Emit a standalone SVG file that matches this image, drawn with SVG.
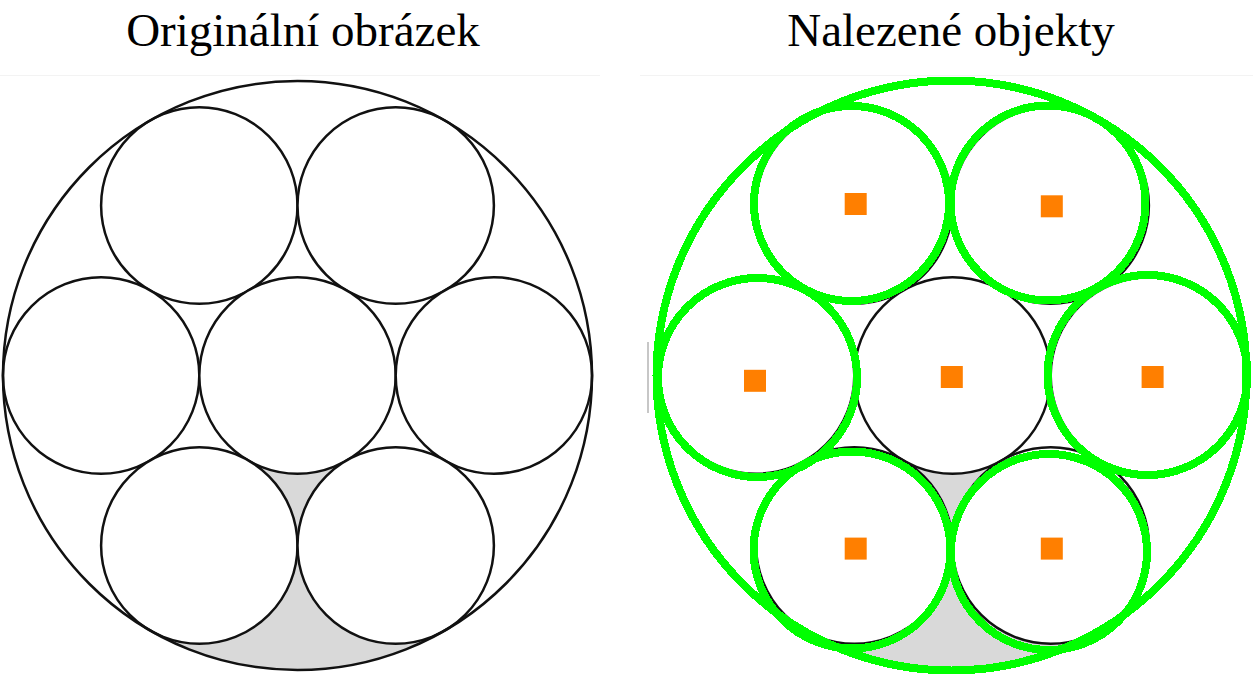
<svg xmlns="http://www.w3.org/2000/svg" xmlns:xlink="http://www.w3.org/1999/xlink" width="1253" height="674" viewBox="0 0 1253 674">
  <style>
    .title { font-family: "Liberation Serif", "Times New Roman", serif; font-size: 47px; fill: #000; text-anchor: middle; }
    .bg { fill: #fff; stroke: none; }
    .shade { fill: #d9d9d9; stroke: none; }
    .ring { fill: #fff; stroke: #111; stroke-width: 2.5; }
    .outer { fill: none; stroke: #111; stroke-width: 2.5; }
    .det { fill: none; stroke: #00ff00; stroke-width: 8; shape-rendering: crispEdges; }
    .ctr { fill: #ff7f00; }
  </style>
  <defs>
    <g id="orig">
      <circle class="bg" cx="297.5" cy="375.5" r="294.5"/>
      <path class="shade" d="M 199.3 545.5 L 150.25 630.55 A 294.5 294.5 0 0 0 444.75 630.55 L 395.7 545.5 L 297.5 375.5 Z"/>
      <circle class="ring" cx="199.3" cy="205.5" r="98.2"/>
      <circle class="ring" cx="395.7" cy="205.5" r="98.2"/>
      <circle class="ring" cx="101.1" cy="375.5" r="98.2"/>
      <circle class="ring" cx="297.5" cy="375.5" r="98.2"/>
      <circle class="ring" cx="493.9" cy="375.5" r="98.2"/>
      <circle class="ring" cx="199.3" cy="545.5" r="98.2"/>
      <circle class="ring" cx="395.7" cy="545.5" r="98.2"/>
      <circle class="outer" cx="297.5" cy="375.5" r="294.5"/>
    </g>
  </defs>
  <rect width="1253" height="674" fill="#fff"/>
  <g id="titles">
    <text class="title" x="303" y="46">Originální obrázek</text>
    <text class="title" x="951" y="46">Nalezené objekty</text>
  </g>
  <line x1="0" y1="75.5" x2="600" y2="75.5" stroke="#f3f3f3" stroke-width="1"/>
  <line x1="640" y1="75.5" x2="1253" y2="75.5" stroke="#f3f3f3" stroke-width="1"/>
  <g id="original-image">
    <use xlink:href="#orig" href="#orig"/>
  </g>
  <g id="detected-image">
    <use xlink:href="#orig" href="#orig" transform="translate(655,0)"/>
    <line x1="648" y1="342" x2="648" y2="413" stroke="#b5b5b5" stroke-width="1.5"/>
    <g id="det-outer"><circle class="det" cx="951.5" cy="375.5" r="295"/></g>
    <g id="det-tl"><circle class="det" cx="851.5" cy="203.5" r="97.5"/><rect class="ctr" x="844.7" y="193" width="22" height="22"/></g>
    <g id="det-tr"><circle class="det" cx="1048" cy="203" r="97.5"/><rect class="ctr" x="1040.8" y="195.3" width="22" height="22"/></g>
    <g id="det-l"><circle class="det" cx="757.5" cy="377.5" r="99.5"/><rect class="ctr" x="744" y="369.8" width="22" height="22"/></g>
    <g id="det-c"><rect class="ctr" x="940.8" y="366" width="22" height="22"/></g>
    <g id="det-r"><circle class="det" cx="1147.5" cy="375" r="100"/><rect class="ctr" x="1141.6" y="366" width="22" height="22"/></g>
    <g id="det-bl"><circle class="det" cx="852" cy="550" r="98.5"/><rect class="ctr" x="844.7" y="537.6" width="22" height="22"/></g>
    <g id="det-br"><circle class="det" cx="1049" cy="552" r="98"/><rect class="ctr" x="1040.8" y="537.6" width="22" height="22"/></g>
  </g>
</svg>
